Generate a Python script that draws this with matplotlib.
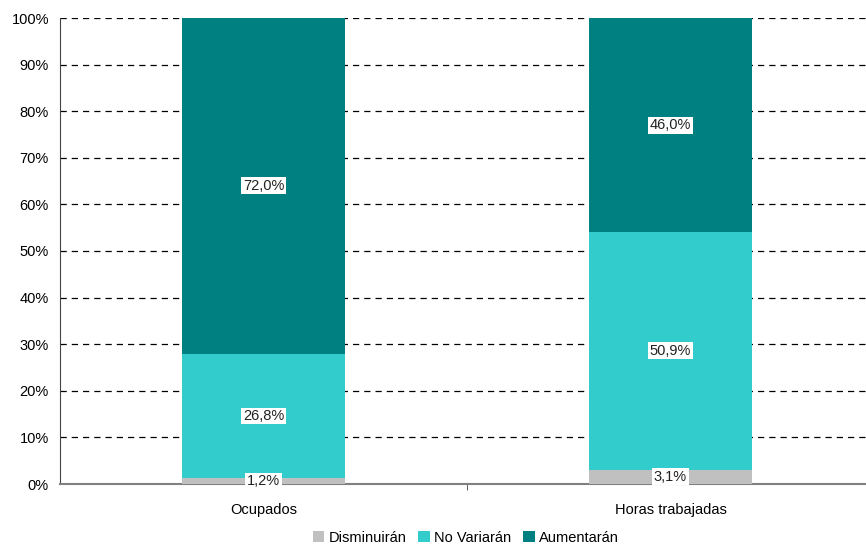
import matplotlib
matplotlib.use("Agg")
import matplotlib.pyplot as plt
import numpy as np

plt.rcParams['font.family'] = ['Liberation Sans', 'DejaVu Sans']

categories = ["Ocupados", "Horas trabajadas"]
series_names = ["Disminuirán", "No Variarán", "Aumentarán"]
disminuiran = [1.2, 3.1]
no_variaran = [26.8, 50.9]
aumentaran = [72.0, 46.0]
colors = ["#C0C0C0", "#33CCCC", "#008080"]
yticks = [0, 10, 20, 30, 40, 50, 60, 70, 80, 90, 100]

fig = plt.figure(figsize=(8.66, 5.46), dpi=100)
ax = fig.add_axes([60/866, 1-484/546, 814/866, 466/546])

x = np.arange(len(categories))
bottom = np.zeros(len(categories))
for name, vals, c in zip(series_names, [disminuiran, no_variaran, aumentaran], colors):
    vals = np.array(vals)
    ax.bar(x, vals, width=0.4, bottom=bottom, color=c, label=name, zorder=3)
    for xi, b, v in zip(x, bottom, vals):
        ax.text(xi, b + v/2, f"{v:.1f}%".replace(".", ","), ha="center", va="center",
                fontsize=10.5, color="#222222", zorder=5,
                bbox=dict(facecolor="white", edgecolor="none", pad=1))
    bottom += vals

ax.set_xlim(-0.5, 1.5)
ax.set_ylim(0, 100)
ax.set_yticks(yticks)
ax.set_yticklabels([f"{t}%" for t in yticks], fontsize=10.5)
ax.yaxis.grid(True, linestyle=(0, (5, 4)), color="black", linewidth=0.9, zorder=0)
ax.tick_params(axis="y", length=0, pad=8)
ax.set_xticks(x)
ax.set_xticklabels(categories, fontsize=10.5)
ax.tick_params(axis="x", length=0, pad=14)
ax.set_xticks([0.5], minor=True)
ax.tick_params(axis="x", which="minor", length=4, color="#444444", direction="out")
for s in ["top", "right"]:
    ax.spines[s].set_visible(False)
ax.spines["left"].set_color("#444444")
ax.spines["bottom"].set_color("#808080")
ax.spines["bottom"].set_linewidth(1.5)

fig.legend(loc="lower center", bbox_to_anchor=(0.538, -0.022), ncol=3, frameon=False,
           fontsize=10.5, handlelength=0.8, handleheight=0.8, handletextpad=0.3,
           columnspacing=0.8)

fig.savefig("out.png", dpi=100)
